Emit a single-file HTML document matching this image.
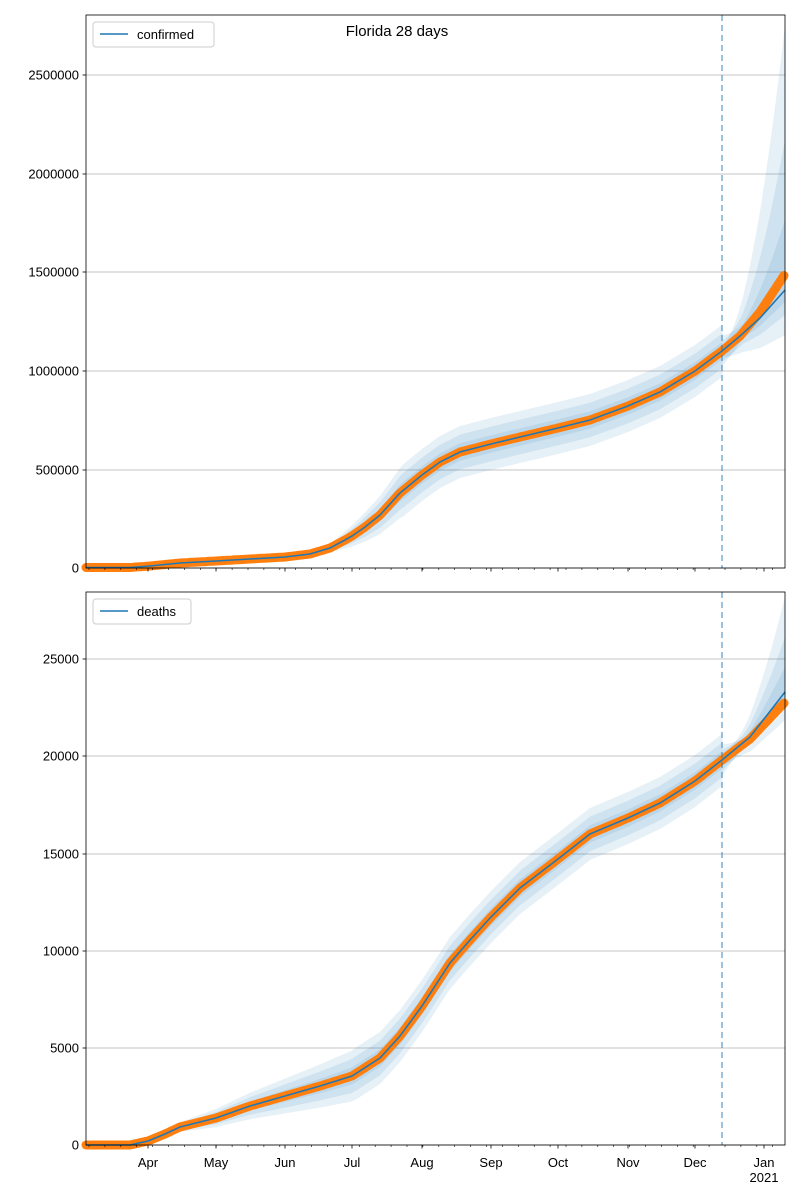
<!DOCTYPE html>
<html><head><meta charset="utf-8"><style>
html,body{margin:0;padding:0;background:#fff;}
svg{display:block;font-family:"Liberation Sans","DejaVu Sans",sans-serif;}
</style></head><body>
<svg id="s" width="800" height="1200" xmlns="http://www.w3.org/2000/svg"></svg>
<script>
const NS="http://www.w3.org/2000/svg";
const S=document.getElementById('s');
function el(t,a,txt){const e=document.createElementNS(NS,t);for(const k in a)e.setAttribute(k,a[k]);if(txt!==undefined)e.textContent=txt;S.appendChild(e);return e;}
function interp(pts,x){for(let i=0;i<pts.length-1;i++){const a=pts[i],b=pts[i+1];if(x>=a[0]&&x<=b[0]){const t=(x-a[0])/(b[0]-a[0]);return a[1]+t*(b[1]-a[1]);}}return pts[pts.length-1][1];}
const X0=86,X1=785,DASH=722;
const months=[[148,'Apr'],[216,'May'],[285,'Jun'],[352,'Jul'],[422,'Aug'],[491,'Sep'],[558,'Oct'],[628,'Nov'],[695,'Dec'],[764,'Jan']];
function smooth(pts){const o=[];for(let x=X0;x<=X1;x+=2)o.push([x,interp(pts,x)]);return o;}
function panel(top,bot,yt,curve,obs,sfun,fanUp,fanDn,label,labelW){
  yt.forEach(([y,l])=>{el('line',{x1:X0,x2:X1,y1:y,y2:y,stroke:'#b0b0b0','stroke-width':0.8});
    el('line',{x1:X0-3.5,x2:X0,y1:y,y2:y,stroke:'#000','stroke-width':0.8});
    el('text',{x:X0-7,y:y+4.5,'text-anchor':'end','font-size':13},l);});
  for(let k=3;k>=1;k--){
    let up=[],dn=[];
    for(let x=X0;x<=X1;x+=1){
      const c=interp(curve,x);let s=sfun(x)*k/3,u=s,d=s;
      if(x>DASH){const t=(x-DASH)/(X1-DASH);const f=Math.max(0,1-t*3);u=s*f*0.6+fanUp[k-1]*Math.pow(t,1.8);d=s*f*0.6+fanDn[k-1]*Math.pow(t,0.8);}
      up.push([x,Math.max(top,c-u)]);dn.push([x,Math.min(bot,c+d)]);
    }
    const pts=up.concat(dn.reverse()).map(p=>p[0]+','+p[1].toFixed(1)).join(' ');
    el('polygon',{points:pts,fill:'#1f77b4','fill-opacity':0.11,stroke:'none'});
  }
  el('polyline',{points:smooth(obs).map(p=>p[0]+','+p[1].toFixed(1)).join(' '),fill:'none',stroke:'#ff7f0e','stroke-width':9,'stroke-linecap':'round','stroke-linejoin':'round'});
  el('polyline',{points:curve.map(p=>p.join(',')).join(' '),fill:'none',stroke:'#1f77b4','stroke-width':1.6});
  el('line',{x1:DASH,x2:DASH,y1:top,y2:bot,stroke:'#1f77b4','stroke-opacity':0.55,'stroke-width':1.6,'stroke-dasharray':'6,4'});
  for(let x=X0+3;x<=X1;x+=15.9){el('line',{x1:x,x2:x,y1:bot,y2:bot+2,stroke:'#000','stroke-width':0.6});}
  months.forEach(([x])=>el('line',{x1:x,x2:x,y1:bot,y2:bot+3.5,stroke:'#000','stroke-width':0.8}));
  el('rect',{x:X0,y:top,width:X1-X0,height:bot-top,fill:'none',stroke:'#000','stroke-width':0.8});
  el('rect',{x:93,y:top+7,width:labelW,height:25,rx:3,fill:'#fff','fill-opacity':0.8,stroke:'#ccc','stroke-width':1});
  el('line',{x1:100,x2:128,y1:top+19,y2:top+19,stroke:'#1f77b4','stroke-width':1.6});
  el('text',{x:137,y:top+24,'font-size':13},label);
}
const cT=[[86,567.5],[130,567.5],[150,566],[180,563],[216,561],[250,559],[285,557],[310,554],[330,548],[345,540],[352,536],[365,527],[380,515],[400,493],[422,475],[440,462],[460,452],[491,444],[520,437],[558,428],[590,420],[628,406],[660,392],[695,371],[722,351],[740,336],[760,318],[785,290]];
const oT=cT.map(p=>p.slice());oT[oT.length-2]=[760,312];oT[oT.length-1]=[785,274];
panel(15,568,[[568,'0'],[470,'500000'],[371,'1000000'],[272,'1500000'],[174,'2000000'],[75,'2500000']],cT,oT,
 x=>x<330?Math.max(0,(x-250)*0.05):Math.min(26,4+(x-330)*0.3),[265,150,70],[45,25,12],'confirmed',121);
el('text',{x:397,y:36,'text-anchor':'middle','font-size':15},'Florida 28 days');
const cB=[[86,1145],[130,1145],[148,1141],[165,1134],[180,1127],[216,1118],[250,1106],[285,1096],[320,1086],[352,1076],[380,1058],[400,1036],[422,1006],[450,963],[470,940],[491,917],[520,888],[558,859],[590,834],[628,818],[660,803],[695,781],[722,760],[750,737],[785,692]];
const oB=cB.map(p=>p.slice());oB[oB.length-1]=[785,702];oB[oB.length-2]=[750,739];
panel(592,1145,[[1145,'0'],[1048,'5000'],[951,'10000'],[854,'15000'],[756,'20000'],[659,'25000']],cB,oB,
 x=>x<140?0:Math.min(26,(x-140)*0.12),[95,55,25],[28,15,8],'deaths',98);
months.forEach(([x,l])=>el('text',{x:x,y:1167,'text-anchor':'middle','font-size':13},l));
el('text',{x:764,y:1182,'text-anchor':'middle','font-size':13},'2021');
</script>
</body></html>
